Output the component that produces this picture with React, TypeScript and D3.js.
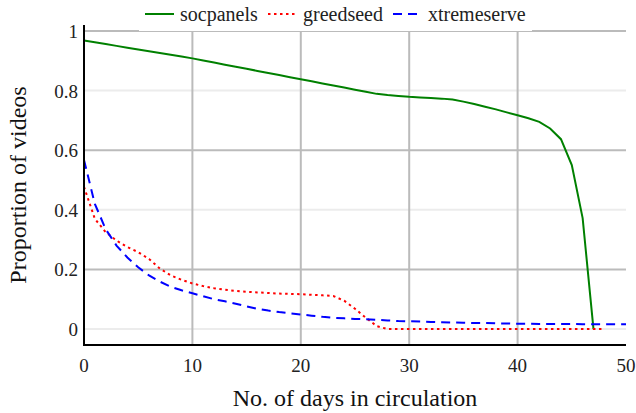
import React, { useEffect, useRef } from 'react';
import * as d3 from 'd3';

// days in circulation, one point per day
const socDays = d3.range(0, 48);
const socpanels = [
  0.968, 0.962, 0.956, 0.95, 0.944, 0.938, 0.932, 0.926, 0.92, 0.914,
  0.908, 0.901, 0.894, 0.887, 0.88, 0.873, 0.866, 0.859, 0.852, 0.845,
  0.838, 0.831, 0.824, 0.817, 0.81, 0.803, 0.796, 0.789, 0.785, 0.782,
  0.779, 0.777, 0.775, 0.773, 0.77, 0.763, 0.755, 0.746, 0.737, 0.727,
  0.717, 0.707, 0.695, 0.673, 0.637, 0.55, 0.372, 0.0,
];

const greedDays = d3.range(0, 49);
const greedseed = [
  0.477, 0.37, 0.325, 0.297, 0.275, 0.258, 0.235, 0.203, 0.18, 0.165,
  0.153, 0.144, 0.137, 0.132, 0.128, 0.125, 0.123, 0.121, 0.119, 0.118,
  0.117, 0.115, 0.113, 0.111, 0.095, 0.068, 0.038, 0.01, 0.0, 0.0,
  0.0, 0.0, 0.0, 0.0, 0.0, 0.0, 0.0, 0.0, 0.0, 0.0,
  0.0, 0.0, 0.0, 0.0, 0.0, 0.0, 0.0, 0.0, 0.0,
];

const xtremeDays = d3.range(0, 51);
const xtremeserve = [
  0.567, 0.42, 0.335, 0.28, 0.24, 0.207, 0.18, 0.159, 0.142, 0.13,
  0.12, 0.11, 0.1, 0.093, 0.085, 0.076, 0.068, 0.062, 0.057, 0.053,
  0.049, 0.045, 0.041, 0.038, 0.036, 0.034, 0.033, 0.031, 0.029, 0.027,
  0.026, 0.025, 0.024, 0.023, 0.022, 0.021, 0.02, 0.02, 0.019, 0.019,
  0.018, 0.018, 0.017, 0.017, 0.017, 0.017, 0.016, 0.016, 0.016, 0.016,
  0.016,
];

const xTicks = [0, 10, 20, 30, 40, 50];
const yTicks = [0, 0.2, 0.4, 0.6, 0.8, 1];
const yTickLabels = ['0', '0.2', '0.4', '0.6', '0.8', '1'];

const seriesNames = ['socpanels', 'greedseed', 'xtremeserve'];
const seriesColors = ['#008000', '#ff0000', '#0000ff'];
const seriesDash = ['none', '2.5,3.5', '9,6'];

export default function App() {
  const ref = useRef<SVGSVGElement>(null);

  useEffect(() => {
    const svg = d3.select(ref.current);
    svg.selectAll('*').remove();

    const font = '"Liberation Serif", "Times New Roman", serif';
    const x = d3.scaleLinear().domain([0, 50]).range([84, 626]);
    const y = d3.scaleLinear().domain([-0.0535, 1.02]).range([345, 25]);

    const series = [
      socDays.map((d, i) => [d, socpanels[i]] as [number, number]),
      greedDays.map((d, i) => [d, greedseed[i]] as [number, number]),
      xtremeDays.map((d, i) => [d, xtremeserve[i]] as [number, number]),
    ];

    // horizontal grid, alternating shade
    svg.append('g')
      .selectAll('line')
      .data(yTicks)
      .enter().append('line')
      .attr('x1', x(0)).attr('x2', x(50))
      .attr('y1', d => y(d)).attr('y2', d => y(d))
      .attr('stroke', (d, i) => (i % 2 === 0 ? '#ececec' : '#bbbbbb'))
      .attr('stroke-width', 2);

    // vertical grid
    svg.append('g')
      .selectAll('line')
      .data(xTicks.slice(1, -1))
      .enter().append('line')
      .attr('x1', d => x(d)).attr('x2', d => x(d))
      .attr('y1', 25).attr('y2', 345)
      .attr('stroke', '#bbbbbb')
      .attr('stroke-width', 2);

    const line = d3.line<[number, number]>()
      .x(d => x(d[0]))
      .y(d => y(d[1]));

    series.forEach((s, i) => {
      svg.append('path')
        .datum(s)
        .attr('d', line)
        .attr('fill', 'none')
        .attr('stroke', seriesColors[i])
        .attr('stroke-width', 2)
        .attr('stroke-dasharray', seriesDash[i]);
    });

    // axes lines
    svg.append('line')
      .attr('x1', 84).attr('x2', 84).attr('y1', 25).attr('y2', 346)
      .attr('stroke', '#000').attr('stroke-width', 2);
    svg.append('line')
      .attr('x1', 83).attr('x2', 626).attr('y1', 345).attr('y2', 345)
      .attr('stroke', '#000').attr('stroke-width', 2);

    // tick labels
    svg.append('g')
      .selectAll('text')
      .data(xTicks)
      .enter().append('text')
      .attr('x', d => x(d))
      .attr('y', 372)
      .attr('text-anchor', 'middle')
      .style('font-family', font)
      .style('font-size', '19px')
      .attr('fill', '#222')
      .text(d => String(d));

    svg.append('g')
      .selectAll('text')
      .data(yTicks)
      .enter().append('text')
      .attr('x', 78)
      .attr('y', d => y(d) + 7)
      .attr('text-anchor', 'end')
      .style('font-family', font)
      .style('font-size', '19px')
      .attr('fill', '#222')
      .text((d, i) => yTickLabels[i]);

    // axis titles
    svg.append('text')
      .attr('x', 355)
      .attr('y', 406)
      .attr('text-anchor', 'middle')
      .style('font-family', font)
      .style('font-size', '24px')
      .attr('fill', '#111')
      .text('No. of days in circulation');

    svg.append('text')
      .attr('transform', 'translate(26,185) rotate(-90)')
      .attr('text-anchor', 'middle')
      .style('font-family', font)
      .style('font-size', '24px')
      .attr('fill', '#111')
      .text('Proportion of videos');

    // legend
    const legend = svg.append('g');
    legend.append('rect')
      .attr('x', 139).attr('y', 0).attr('width', 393).attr('height', 31)
      .attr('fill', '#fff');
    const legendX = [145, 268, 393];
    seriesNames.forEach((name, i) => {
      legend.append('line')
        .attr('x1', legendX[i]).attr('x2', legendX[i] + 29)
        .attr('y1', 14).attr('y2', 14)
        .attr('stroke', seriesColors[i])
        .attr('stroke-width', 2)
        .attr('stroke-dasharray', seriesDash[i]);
      legend.append('text')
        .attr('x', legendX[i] + 35)
        .attr('y', 21)
        .style('font-family', font)
        .style('font-size', '20px')
        .attr('fill', '#222')
        .text(name);
    });
  }, []);

  return (
    <svg
      ref={ref}
      width={636}
      height={413}
      style={{ position: 'absolute', left: 0, top: 0, background: '#fff' }}
    />
  );
}
